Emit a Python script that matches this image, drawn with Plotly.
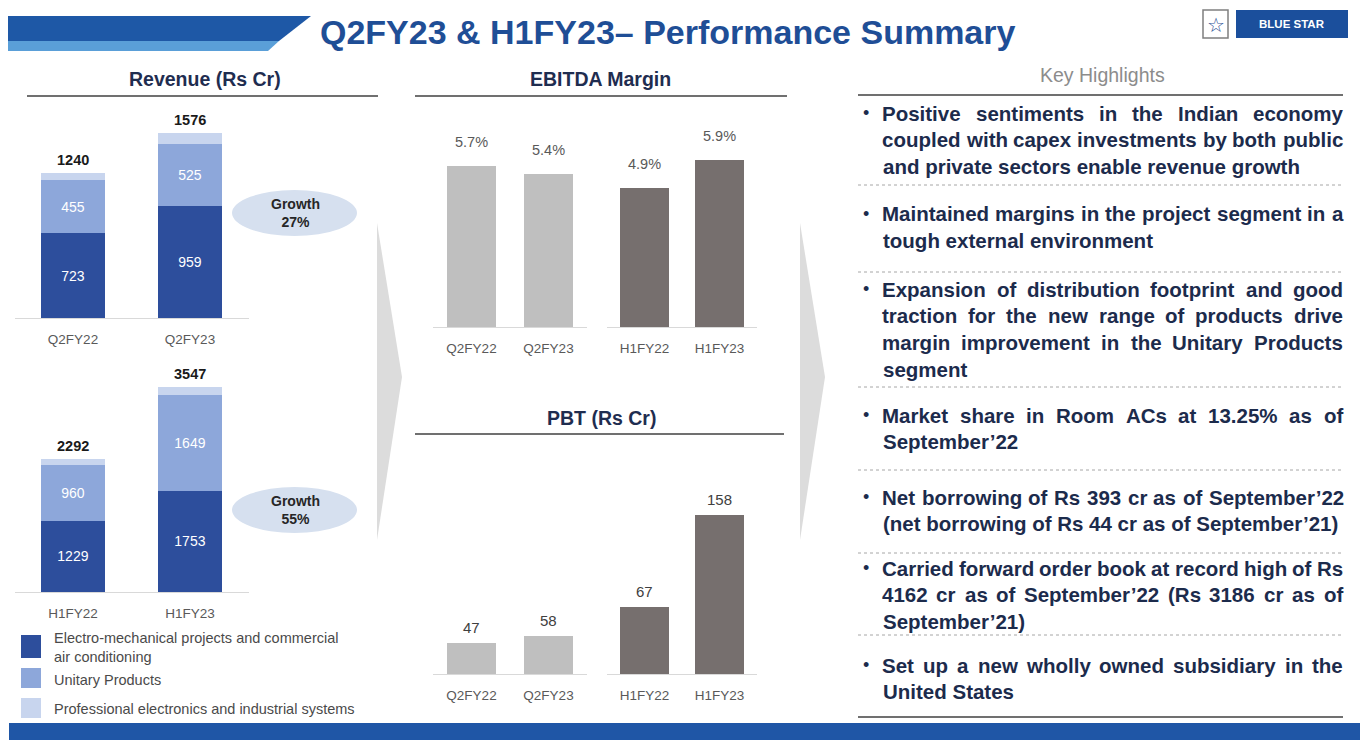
import plotly.graph_objects as go

W, H = 1360, 740


def px(x):
    return x / W


def py(y):
    return 1 - y / H


# ---------------- data ----------------
rev_q_periods = ["Q2FY22", "Q2FY23"]
rev_h_periods = ["H1FY22", "H1FY23"]
rev_q_emp = [723, 959]
rev_q_up = [455, 525]
rev_q_pes = [62, 92]
rev_q_total = [1240, 1576]
rev_h_emp = [1229, 1753]
rev_h_up = [960, 1649]
rev_h_pes = [103, 145]
rev_h_total = [2292, 3547]
growth_labels = ["27%", "55%"]

ebitda_q = [5.7, 5.4]
ebitda_h = [4.9, 5.9]
pbt_q = [47, 58]
pbt_h = [67, 158]

segment_names = [
    "Electro-mechanical projects and commercial",
    "air conditioning",
    "Unitary Products",
    "Professional electronics and industrial systems",
]

title_text = "Q2FY23 & H1FY23– Performance Summary"
highlights = [
    ["Positive sentiments in the Indian economy",
     "coupled with capex investments by both public",
     "and private sectors enable revenue growth"],
    ["Maintained margins in the project segment in a",
     "tough external environment"],
    ["Expansion of distribution footprint and good",
     "traction for the new range of products drive",
     "margin improvement in the Unitary Products",
     "segment"],
    ["Market share in Room ACs at 13.25% as of",
     "September’22"],
    ["Net borrowing of Rs 393 cr as of September’22",
     "(net borrowing of Rs 44 cr as of September’21)"],
    ["Carried forward order book at record high of Rs",
     "4162 cr as of September’22 (Rs 3186 cr as of",
     "September’21)"],
    ["Set up a new wholly owned subsidiary in the",
     "United States"],
]

# ---------------- styles ----------------
C_DARK = "#2D4E9C"
C_MID = "#8DA7DA"
C_LIGHT = "#C8D5EE"
C_GREY_L = "#BFBFBF"
C_GREY_D = "#766F6E"
NAVY = "#1C2B4C"
FONT = "Liberation Sans, Arial, sans-serif"

# Arial Bold / Liberation Sans Bold advance widths (per 1000 em) for justification
BOLD_W = {" ": 278, "a": 556, "b": 611, "c": 556, "d": 611, "e": 556, "f": 333, "g": 611,
          "h": 611, "i": 278, "j": 278, "k": 556, "l": 278, "m": 889, "n": 611, "o": 611,
          "p": 611, "q": 611, "r": 389, "s": 556, "t": 333, "u": 611, "v": 556, "w": 778,
          "x": 556, "y": 556, "z": 500, "A": 722, "B": 722, "C": 722, "D": 722, "E": 667,
          "F": 611, "G": 778, "H": 722, "I": 278, "J": 556, "K": 722, "L": 611, "M": 833,
          "N": 722, "O": 778, "P": 667, "Q": 778, "R": 722, "S": 667, "T": 611, "U": 722,
          "V": 667, "W": 944, "X": 667, "Y": 667, "Z": 611, ".": 278, ",": 278, "(": 333,
          ")": 333, "%": 889, "’": 278, "-": 333}


def text_w(s, size):
    return sum(BOLD_W.get(ch, 556) for ch in s) * size / 1000


fig = go.Figure()

# revenue bars
for xa, ya, cats, emp, up, pes in [
    ("x", "y", rev_q_periods, rev_q_emp, rev_q_up, rev_q_pes),
    ("x2", "y2", rev_h_periods, rev_h_emp, rev_h_up, rev_h_pes),
]:
    for vals, col, show in [(emp, C_DARK, True), (up, C_MID, True), (pes, C_LIGHT, False)]:
        fig.add_trace(go.Bar(x=cats, y=vals, xaxis=xa, yaxis=ya, marker_color=col,
                             marker_line_width=0, width=0.54,
                             text=[str(v) for v in vals] if show else None,
                             textposition="inside" if show else "none",
                             insidetextanchor="middle", textangle=0,
                             textfont=dict(color="white", size=14, family=FONT),
                             showlegend=False, hoverinfo="skip"))

# EBITDA and PBT bars
for xa, ya, cats, vals, col in [
    ("x3", "y3", rev_q_periods, ebitda_q, C_GREY_L),
    ("x4", "y4", rev_h_periods, ebitda_h, C_GREY_D),
    ("x5", "y5", rev_q_periods, pbt_q, C_GREY_L),
    ("x6", "y6", rev_h_periods, pbt_h, C_GREY_D),
]:
    fig.add_trace(go.Bar(x=cats, y=vals, xaxis=xa, yaxis=ya, marker_color=col,
                         marker_line_width=0, width=0.645, showlegend=False, hoverinfo="skip"))

annotations = []
shapes = []


def note(x, y, text, size, color, xanchor="center", yanchor="middle", **kw):
    annotations.append(dict(x=px(x), y=py(y), xref="paper", yref="paper", showarrow=False,
                            xanchor=xanchor, yanchor=yanchor, text=text,
                            font=dict(size=size, color=color, family=kw.pop("family", FONT)), **kw))


# value labels
for xr, yr, cats, tots in [("x", "y", rev_q_periods, rev_q_total),
                           ("x2", "y2", rev_h_periods, rev_h_total)]:
    for c, t in zip(cats, tots):
        annotations.append(dict(x=c, y=t, xref=xr, yref=yr, text=f"<b>{t}</b>",
                                showarrow=False, xanchor="center", yanchor="bottom", yshift=3,
                                font=dict(size=14.5, color="#1a1a1a", family=FONT)))
for xr, yr, cats, vals in [("x3", "y3", rev_q_periods, ebitda_q),
                           ("x4", "y4", rev_h_periods, ebitda_h)]:
    for c, v in zip(cats, vals):
        annotations.append(dict(x=c, y=v, xref=xr, yref=yr, text=f"{v}%",
                                showarrow=False, xanchor="center", yanchor="bottom", yshift=14,
                                font=dict(size=14.5, color="#595959", family=FONT)))
for xr, yr, cats, vals in [("x5", "y5", rev_q_periods, pbt_q),
                           ("x6", "y6", rev_h_periods, pbt_h)]:
    for c, v in zip(cats, vals):
        annotations.append(dict(x=c, y=v, xref=xr, yref=yr, text=f"{v}",
                                showarrow=False, xanchor="center", yanchor="bottom", yshift=5,
                                font=dict(size=15, color="#404040", family=FONT)))

# ---- header ----
shapes.append(dict(type="path", xref="paper", yref="paper",
                   path=f"M {px(8)},{py(16)} L {px(311)},{py(16)} L {px(279)},{py(41)} L {px(8)},{py(41)} Z",
                   fillcolor="#1E58A6", line=dict(width=0)))
shapes.append(dict(type="path", xref="paper", yref="paper",
                   path=f"M {px(8)},{py(41)} L {px(279)},{py(41)} L {px(268)},{py(51)} L {px(8)},{py(51)} Z",
                   fillcolor="#5A9FD8", line=dict(width=0)))
note(318, 32, f"<b>{title_text}</b>", 34, "#1F4E96", xanchor="left")

# logo
shapes.append(dict(type="rect", xref="paper", yref="paper", x0=px(1203), x1=px(1228),
                   y0=py(38), y1=py(10), fillcolor="white", line=dict(color="#7F7F7F", width=1.5)))
note(1215.5, 25, "☆", 20, "#2F5597", family="DejaVu Sans")
shapes.append(dict(type="rect", xref="paper", yref="paper", x0=px(1236), x1=px(1348),
                   y0=py(38), y1=py(10), fillcolor="#1B4F9C", line=dict(width=0)))
note(1292, 24, "<b>BLUE STAR</b>", 11.5, "white")

# bottom band
shapes.append(dict(type="rect", xref="paper", yref="paper", x0=px(9), x1=1,
                   y0=0, y1=py(723), fillcolor="#1F56A6", line=dict(width=0)))

# chevrons
for x0 in (377, 800):
    shapes.append(dict(type="path", xref="paper", yref="paper",
                       path=f"M {px(x0)},{py(223)} L {px(x0 + 25)},{py(377)} L {px(x0)},{py(540)} Z",
                       fillcolor="#DCDCDC", line=dict(width=0), layer="below"))

# section titles + underlines
for text, cx, cy, x0, x1, ly in [
    ("Revenue (Rs Cr)", 205, 79, 27, 378, 96),
    ("EBITDA Margin", 600, 79, 415, 787, 96),
    ("PBT (Rs Cr)", 601, 418, 415, 784, 434),
]:
    note(cx, cy, f"<b>{text}</b>", 19.5, "#1F2D50")
    shapes.append(dict(type="line", xref="paper", yref="paper", x0=px(x0), x1=px(x1),
                       y0=py(ly), y1=py(ly), line=dict(color="#404040", width=1.5)))

# growth ellipses
for (cy, g) in zip((213, 510), growth_labels):
    shapes.append(dict(type="circle", xref="paper", yref="paper", x0=px(232), x1=px(357),
                       y0=py(cy + 23), y1=py(cy - 23), fillcolor="#D6E0EF", line=dict(width=0)))
    note(295, cy, f"<b>Growth<br>{g}</b>", 14, "#262626")

# legend
for (y0, y1, col) in [(635, 658, C_DARK), (668, 688, C_MID), (698, 718, C_LIGHT)]:
    shapes.append(dict(type="rect", xref="paper", yref="paper", x0=px(21), x1=px(41),
                       y0=py(y1), y1=py(y0), fillcolor=col, line=dict(width=0)))
for name, yy in zip(segment_names, (638, 657, 680, 709)):
    note(52, yy, name, 14.5, "#4a4a4a", xanchor="left")

# key highlights
note(1102, 75, "Key Highlights", 19.5, "#8C8C8C")
for ly in (95, 717):
    shapes.append(dict(type="line", xref="paper", yref="paper", x0=px(858), x1=px(1343),
                       y0=py(ly), y1=py(ly), line=dict(color="#404040", width=1.5)))
item_starts = [113, 214, 289, 415, 497, 568, 665]
separators = [185, 272, 387, 470, 553, 635]
for ys in separators:
    shapes.append(dict(type="line", xref="paper", yref="paper", x0=px(858), x1=px(1343),
                       y0=py(ys), y1=py(ys), line=dict(color="#A6A6A6", width=1, dash="dot")))

HL_SIZE = 20.5
X_L, X_R = 881, 1342
for lines, ys in zip(highlights, item_starts):
    note(866, ys, "•", 18, NAVY)
    for k, ln in enumerate(lines):
        yy = ys + 26.8 * k
        words = ln.split(" ")
        last = k == len(lines) - 1
        if last or len(words) < 2:
            note(X_L, yy, f"<b>{ln}</b>", HL_SIZE, NAVY, xanchor="left")
            continue
        widths = [text_w(w, HL_SIZE) for w in words]
        gap = (X_R - X_L - sum(widths)) / (len(words) - 1)
        xx = X_L
        for w, wd in zip(words, widths):
            note(xx, yy, f"<b>{w}</b>", HL_SIZE, NAVY, xanchor="left", borderpad=0)
            xx += wd + gap

# ---------------- axes ----------------
def xax(domain, anchor, color="#D9D9D9"):
    return dict(domain=[px(domain[0]), px(domain[1])], type="category", showline=True,
                linecolor=color, linewidth=1, ticks="", showgrid=False, zeroline=False,
                ticklabelstandoff=9, tickfont=dict(size=13.5, color="#595959", family=FONT),
                fixedrange=True, anchor=anchor)


def yax(top, base, rng, anchor):
    return dict(domain=[py(base), py(top)], range=rng, visible=False, showgrid=False,
                zeroline=False, anchor=anchor, fixedrange=True)


fig.update_layout(
    width=W, height=H, margin=dict(l=0, r=0, t=0, b=0),
    paper_bgcolor="white", plot_bgcolor="white", barmode="stack",
    showlegend=False, annotations=annotations, shapes=shapes,
    xaxis=xax((14.5, 248.5), "y"),
    yaxis=yax(107, 318, [0, 1800], "x"),
    xaxis2=xax((14.5, 248.5), "y2"),
    yaxis2=yax(372, 592, [0, 3800], "x2"),
    xaxis3=xax((433, 587), "y3"),
    yaxis3=yax(143, 327, [0, 6.5], "x3"),
    xaxis4=xax((607, 757), "y4"),
    yaxis4=yax(143, 327, [0, 6.5], "x4"),
    xaxis5=xax((433, 587), "y5"),
    yaxis5=yax(494, 674, [0, 272], "x5"),
    xaxis6=xax((607, 757), "y6"),
    yaxis6=yax(494, 674, [0, 179], "x6"),
)
fig.write_html("out.html", config={"displayModeBar": False},
               post_script="document.body.style.margin='0';document.body.style.overflow='hidden';")
